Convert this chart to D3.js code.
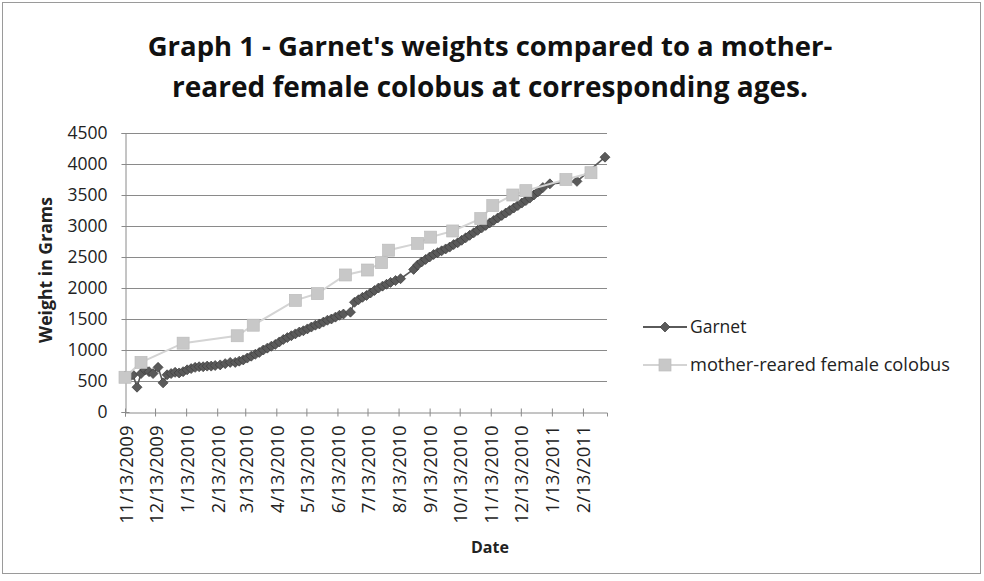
<!DOCTYPE html>
<html><head><meta charset="utf-8">
<script src="https://cdn.jsdelivr.net/npm/d3@7/dist/d3.min.js"></script>
<style>body{margin:0;background:#fff}svg{display:block}</style>
</head><body>
<svg id="chart" width="984" height="581"></svg>
<script>
// ---------------- data ----------------
const titleLines = ["Graph 1 - Garnet's weights compared to a mother-", "reared female colobus at corresponding ages."];
const seriesNames = ["Garnet", "mother-reared female colobus"];
const xTickLabels = ["11/13/2009","12/13/2009","1/13/2010","2/13/2010","3/13/2010","4/13/2010","5/13/2010","6/13/2010","7/13/2010","8/13/2010","9/13/2010","10/13/2010","11/13/2010","12/13/2010","1/13/2011","2/13/2011"];
const yTickValues = [0,500,1000,1500,2000,2500,3000,3500,4000,4500];
const xDomain = ["2009-11-13","2011-03-09"];

const garnetDates = ["2009-11-13","2009-11-17","2009-11-21","2009-11-25","2009-11-29","2009-12-03","2009-12-07","2009-12-11","2009-12-16","2009-12-21","2009-12-25","2009-12-29",
"2010-01-02","2010-01-06","2010-01-10","2010-01-14","2010-01-18","2010-01-22","2010-01-26","2010-01-30","2010-02-03","2010-02-07","2010-02-11","2010-02-16","2010-02-21","2010-02-26",
"2010-03-03","2010-03-07","2010-03-11","2010-03-15","2010-03-19","2010-03-23","2010-03-27","2010-03-31","2010-04-04","2010-04-08","2010-04-12","2010-04-16","2010-04-20","2010-04-24","2010-04-28",
"2010-05-02","2010-05-06","2010-05-10","2010-05-14","2010-05-18","2010-05-22","2010-05-26","2010-05-30","2010-06-03","2010-06-07","2010-06-11","2010-06-15","2010-06-19","2010-06-26","2010-06-30",
"2010-07-04","2010-07-08","2010-07-12","2010-07-16","2010-07-20","2010-07-24","2010-07-28","2010-08-01","2010-08-05","2010-08-10","2010-08-15","2010-08-28",
"2010-09-01","2010-09-05","2010-09-09","2010-09-13","2010-09-17","2010-09-21","2010-09-25","2010-09-29","2010-10-03","2010-10-07","2010-10-11","2010-10-15","2010-10-19","2010-10-23","2010-10-27","2010-10-31",
"2010-11-04","2010-11-08","2010-11-12","2010-11-16","2010-11-20","2010-11-24","2010-11-28","2010-12-02","2010-12-06","2010-12-10","2010-12-14","2010-12-18","2010-12-22","2010-12-26","2010-12-30",
"2011-01-04","2011-01-11","2011-02-07","2011-03-07"];
const garnetWeights = [580,560,600,400,620,680,650,620,720,470,600,620,
640,630,650,680,700,720,730,730,740,740,750,760,780,800,
800,820,840,870,900,930,960,1000,1030,1060,1090,1130,1170,1200,1230,
1260,1290,1310,1340,1370,1400,1420,1450,1480,1500,1530,1560,1580,1610,1770,
1810,1850,1880,1920,1960,2000,2030,2060,2090,2120,2150,2300,
2370,2420,2460,2500,2540,2570,2600,2630,2660,2700,2730,2770,2810,2850,2890,2930,
2970,3010,3050,3090,3130,3170,3210,3250,3290,3330,3370,3410,3450,3500,3550,
3620,3680,3720,4110];

const motherDates = ["2009-11-13","2009-11-29","2010-01-10","2010-03-05","2010-03-21","2010-05-02","2010-05-24","2010-06-21","2010-07-13","2010-07-27","2010-08-03","2010-09-01","2010-09-14","2010-10-06","2010-11-03","2010-11-15","2010-12-05","2010-12-18","2011-01-27","2011-02-21"];
const motherWeights = [560,800,1110,1230,1400,1800,1910,2210,2290,2410,2610,2720,2820,2920,3120,3330,3500,3570,3750,3860];

// ---------------- chart ----------------
const W = 984, H = 581;
const FONT = "'Open Sans', 'Noto Sans', sans-serif";
const svg = d3.select("#chart");
const parseISO = d3.utcParse("%Y-%m-%d");
const parseMDY = d3.utcParse("%m/%d/%Y");

const plot = {left: 125, right: 607, top: 133, bottom: 412};
const x = d3.scaleUtc().domain(xDomain.map(parseISO)).range([plot.left, plot.right]);
const y = d3.scaleLinear().domain([0, 4500]).range([plot.bottom, plot.top]);

const gridColor = "#8a8a8a";

svg.append("rect").attr("x", 2.5).attr("y", 2.5).attr("width", W - 6).attr("height", H - 10)
  .attr("fill", "#fff").attr("stroke", "#9a9a9a").attr("stroke-width", 1);

function fitText(sel, target) {
  const w = sel.node().getComputedTextLength();
  const fs = parseFloat(sel.attr("font-size"));
  sel.attr("font-size", (fs * target / w).toFixed(2));
}

// title
const titleTargets = [685, 636];
titleLines.forEach((t, i) => {
  const tx = svg.append("text").attr("x", 490).attr("y", 56 + i * 41)
    .attr("text-anchor", "middle").attr("font-family", FONT).attr("font-weight", "bold")
    .attr("font-size", 24).attr("fill", "#111").text(t);
  fitText(tx, titleTargets[i]);
});

// gridlines
svg.append("g").selectAll("line").data(yTickValues.filter(v => v > 0)).join("line")
  .attr("x1", plot.left).attr("x2", plot.right)
  .attr("y1", d => Math.round(y(d)) + 0.5).attr("y2", d => Math.round(y(d)) + 0.5)
  .attr("stroke", gridColor).attr("stroke-width", 1);

// y axis
const yAxis = svg.append("g").attr("transform", `translate(${plot.left + 0.5},0)`)
  .call(d3.axisLeft(y).tickValues(yTickValues).tickSize(4).tickPadding(14).tickFormat(d3.format("d")));
yAxis.select(".domain").attr("stroke", gridColor);
yAxis.selectAll(".tick line").attr("x1", 4).attr("stroke", gridColor);
yAxis.selectAll(".tick text").attr("font-family", FONT).attr("font-size", 17.5).attr("fill", "#222");

// x axis
const xTickDates = xTickLabels.map(parseMDY);
const xAxis = svg.append("g").attr("transform", `translate(0,${plot.bottom + 0.5})`)
  .call(d3.axisBottom(x).tickValues(xTickDates).tickSize(4)
    .tickFormat((d, i) => xTickLabels[i]));
xAxis.select(".domain").attr("stroke", gridColor);
xAxis.selectAll(".tick line").attr("y1", -4).attr("stroke", gridColor);
xAxis.selectAll(".tick text").attr("font-family", FONT).attr("font-size", 18.5).attr("fill", "#222")
  .attr("text-anchor", "end").attr("dy", null).attr("y", 0)
  .attr("transform", "translate(7,13) rotate(-90)");

// axis titles
const yt = svg.append("text").attr("transform", "translate(52,270) rotate(-90)")
  .attr("text-anchor", "middle").attr("font-family", FONT).attr("font-weight", "bold")
  .attr("font-size", 17).attr("fill", "#222").text("Weight in Grams");
fitText(yt, 146);
const xt = svg.append("text").attr("x", 490).attr("y", 553)
  .attr("text-anchor", "middle").attr("font-family", FONT).attr("font-weight", "bold")
  .attr("font-size", 17).attr("fill", "#222").text("Date");
fitText(xt, 38);

// series
const garnet = garnetDates.map((d, i) => ({date: parseISO(d), value: garnetWeights[i]}));
const mother = motherDates.map((d, i) => ({date: parseISO(d), value: motherWeights[i]}));
const line = d3.line().x(d => x(d.date)).y(d => y(d.value));

const garnetColor = "#5a5a5a", garnetStroke = "#3c3c3c";
const motherColor = "#c8c8c8", motherLine = "#d4d4d4";
const diamond = "M0,-5L5,0L0,5L-5,0Z";

svg.append("path").datum(garnet).attr("d", line).attr("fill", "none")
  .attr("stroke", garnetColor).attr("stroke-width", 1.6);
svg.append("g").selectAll("path").data(garnet).join("path")
  .attr("d", diamond).attr("transform", d => `translate(${x(d.date)},${y(d.value)})`)
  .attr("fill", garnetColor).attr("stroke", garnetStroke).attr("stroke-width", 0.7);

svg.append("path").datum(mother).attr("d", line).attr("fill", "none")
  .attr("stroke", motherLine).attr("stroke-width", 2);
svg.append("g").selectAll("rect").data(mother).join("rect")
  .attr("x", d => x(d.date) - 6).attr("y", d => y(d.value) - 6)
  .attr("width", 12).attr("height", 12)
  .attr("fill", motherColor).attr("stroke", "#bcbcbc").attr("stroke-width", 0.7);

// legend
const legY = [327, 365];
seriesNames.forEach((name, i) => {
  const g = svg.append("g").attr("transform", `translate(0,${legY[i]})`);
  g.append("line").attr("x1", 643).attr("x2", 687).attr("y1", 0).attr("y2", 0)
    .attr("stroke", i === 0 ? garnetColor : motherLine).attr("stroke-width", 2);
  if (i === 0) {
    g.append("path").attr("d", diamond).attr("transform", "translate(665,0)")
      .attr("fill", garnetColor).attr("stroke", garnetStroke).attr("stroke-width", 0.7);
  } else {
    g.append("rect").attr("x", 659).attr("y", -6).attr("width", 12).attr("height", 12)
      .attr("fill", motherColor).attr("stroke", "#bcbcbc").attr("stroke-width", 0.7);
  }
  const t = g.append("text").attr("x", 690).attr("y", 0).attr("dy", "0.35em")
    .attr("font-family", FONT).attr("font-size", 17.5).attr("fill", "#222").text(name);
  if (i === 1) fitText(t, 260);
});
</script>
</body></html>
